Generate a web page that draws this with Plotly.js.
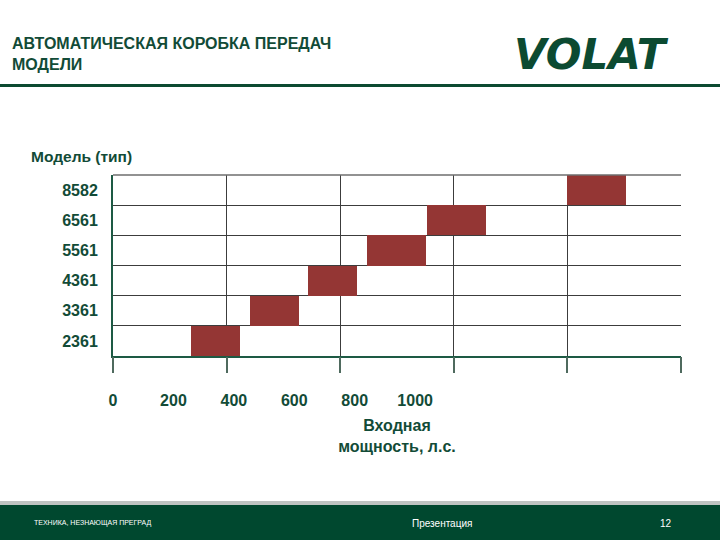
<!DOCTYPE html>
<html>
<head>
<meta charset="utf-8">
<script src="https://cdn.plot.ly/plotly-3.0.1.min.js"></script>
<style>html,body{margin:0;padding:0;background:#fff;}#chart{width:720px;height:540px;}</style>
</head>
<body>
<div id="chart"></div>
<script>
// Data
const models = ['2361', '3361', '4361', '5561', '6561', '8582'];
const powerStart = [258, 454, 646, 841, 1040, 1503];
const powerEnd = [421, 616, 808, 1036, 1235, 1699];
const powerTicks = [0, 200, 400, 600, 800, 1000];
const powerTickText = ['0', '200', '400', '600', '800', '1000'];
const gridColumns = [0, 1, 2, 3, 4, 5];

const green = '#124b37';
const red = '#943634';
const font = {family: 'Liberation Sans, Arial, sans-serif', size: 16, color: green, weight: 'bold'};

const traces = [
  {
    type: 'bar', orientation: 'h',
    y: models,
    base: powerStart,
    x: powerEnd.map((e, i) => e - powerStart[i]),
    width: 1,
    marker: {color: red, line: {width: 0}},
    xaxis: 'x', yaxis: 'y',
    showlegend: false, hoverinfo: 'skip'
  },
  {
    type: 'scatter', mode: 'markers', x: [], y: [],
    xaxis: 'x2', yaxis: 'y', showlegend: false, hoverinfo: 'skip'
  }
];

const layout = {
  width: 720, height: 540,
  paper_bgcolor: '#ffffff', plot_bgcolor: '#ffffff',
  margin: {l: 113, r: 39, t: 175, b: 184},
  bargap: 0,
  showlegend: false,
  title: {
    text: 'АВТОМАТИЧЕСКАЯ КОРОБКА ПЕРЕДАЧ<br>МОДЕЛИ',
    x: 12/720, xanchor: 'left', xref: 'container',
    y: 1 - 49/540, yanchor: 'middle', yref: 'container',
    font: {family: 'Liberation Sans, Arial, sans-serif', size: 16, color: green, weight: 'bold'}
  },
  xaxis: {
    range: [0, 1880],
    tickvals: powerTicks, ticktext: powerTickText,
    ticks: '', showgrid: false, zeroline: false,
    showline: true, linecolor: '#1d5a44', linewidth: 2,
    tickfont: font,
    ticklabelstandoff: 29,
    title: {text: 'Входная<br>мощность, л.с.', font: font, standoff: 12},
    fixedrange: true
  },
  xaxis2: {
    overlaying: 'x', side: 'bottom',
    range: [0, 5], tickvals: gridColumns,
    showgrid: true, gridcolor: '#3c3c3c', gridwidth: 1,
    ticks: 'outside', ticklen: 16, tickcolor: '#4f6a5e', tickwidth: 2,
    showticklabels: false, zeroline: false, showline: false,
    fixedrange: true
  },
  yaxis: {
    type: 'category', categoryorder: 'array', categoryarray: models,
    tickson: 'boundaries', ticks: '',
    showgrid: true, gridcolor: '#3c3c3c', gridwidth: 1,
    showline: true, linecolor: '#1d5a44', linewidth: 2,
    zeroline: false,
    tickfont: font,
    ticklabelstandoff: 10,
    fixedrange: true
  },
  shapes: [
    {type: 'line', xref: 'paper', yref: 'paper', x0: 0, x1: 1, y0: 1, y1: 1,
     line: {color: '#6e6e6e', width: 1.5}},
    {type: 'line', xref: 'paper', yref: 'paper', x0: -113/568, x1: 607/568,
     y0: (356-85.5)/181, y1: (356-85.5)/181, line: {color: '#0c4a31', width: 3}},
    {type: 'rect', xref: 'paper', yref: 'paper', x0: -113/568, x1: 607/568,
     y0: (356-505)/181, y1: (356-501)/181, fillcolor: '#bfc4c2', line: {width: 0}},
    {type: 'rect', xref: 'paper', yref: 'paper', x0: -113/568, x1: 607/568,
     y0: (356-541)/181, y1: (356-505)/181, fillcolor: '#00482f', line: {width: 0}}
  ],
  annotations: [
    {text: 'Модель (тип)', xref: 'paper', yref: 'paper', x: (29-113)/568, y: (356-156)/181,
     xanchor: 'left', yanchor: 'middle', showarrow: false,
     font: {family: 'Liberation Sans, Arial, sans-serif', size: 15.5, color: green, weight: 'bold'}},
    {text: '<i>VOLAT</i>', xref: 'paper', yref: 'paper', x: (591-113)/568, y: (356-54)/181,
     xanchor: 'center', yanchor: 'middle', showarrow: false,
     font: {family: 'DejaVu Sans, sans-serif', size: 42, color: '#0c4a31', weight: 'bold'}},
    {text: 'ТЕХНИКА, НЕЗНАЮЩАЯ ПРЕГРАД', xref: 'paper', yref: 'paper', x: (32-113)/568, y: (356-523)/181,
     xanchor: 'left', yanchor: 'middle', showarrow: false,
     font: {family: 'Liberation Sans Narrow, Liberation Sans, Arial, sans-serif', size: 7, color: '#ffffff'}},
    {text: 'Презентация', xref: 'paper', yref: 'paper', x: (442-113)/568, y: (356-523)/181,
     xanchor: 'center', yanchor: 'middle', showarrow: false,
     font: {family: 'Liberation Sans, Arial, sans-serif', size: 10, color: '#ffffff'}},
    {text: '12', xref: 'paper', yref: 'paper', x: (666-113)/568, y: (356-523)/181,
     xanchor: 'center', yanchor: 'middle', showarrow: false,
     font: {family: 'Liberation Sans, Arial, sans-serif', size: 10, color: '#ffffff'}}
  ]
};

Plotly.newPlot('chart', traces, layout, {staticPlot: true, displayModeBar: false});
</script>
</body>
</html>
